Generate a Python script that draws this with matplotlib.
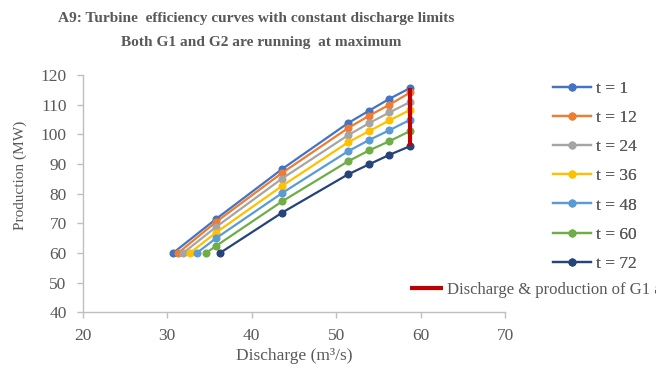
import matplotlib
matplotlib.use("Agg")
import matplotlib.pyplot as plt

# data
labels = ["t = 1", "t = 12", "t = 24", "t = 36", "t = 48", "t = 60", "t = 72"]
colors = ["#4472C4", "#ED7D31", "#A5A5A5", "#FFC000", "#5B9BD5", "#70AD47", "#264478"]

q_t1 = [30.7, 35.8, 43.6, 51.4, 53.9, 56.3, 58.8]
p_t1 = [60.0, 71.5, 88.3, 103.8, 108.0, 112.0, 115.7]
q_t12 = [31.3, 35.8, 43.6, 51.4, 53.9, 56.3, 58.8]
p_t12 = [60.0, 70.5, 87.0, 102.1, 106.3, 110.0, 114.2]
q_t24 = [31.9, 35.8, 43.6, 51.4, 53.9, 56.3, 58.8]
p_t24 = [60.0, 68.8, 85.1, 99.7, 103.8, 107.4, 111.0]
q_t36 = [32.7, 35.8, 43.6, 51.4, 53.9, 56.3, 58.8]
p_t36 = [60.0, 66.9, 82.6, 97.3, 101.1, 104.7, 108.3]
q_t48 = [33.5, 35.8, 43.6, 51.4, 53.9, 56.3, 58.8]
p_t48 = [60.0, 65.0, 80.2, 94.3, 98.1, 101.4, 105.0]
q_t60 = [34.6, 35.8, 43.6, 51.4, 53.9, 56.3, 58.8]
p_t60 = [60.0, 62.4, 77.4, 90.9, 94.6, 97.7, 101.2]
q_t72 = [36.25, 43.6, 51.4, 53.9, 56.3, 58.8]
p_t72 = [60.0, 73.6, 86.5, 89.9, 93.1, 96.1]

# vertical limit line of G1 (max discharge)
g1_q = [58.8, 58.8]
g1_p = [96.1, 115.7]

series_q = [q_t1, q_t12, q_t24, q_t36, q_t48, q_t60, q_t72]
series_p = [p_t1, p_t12, p_t24, p_t36, p_t48, p_t60, p_t72]

txt = "#595959"
plt.rcParams["font.family"] = ["Liberation Serif", "DejaVu Serif"]

fig = plt.figure(figsize=(6.56, 3.70), dpi=100)
ax = fig.add_axes([0.126, 0.156, 0.644, 0.641])

handles = []
for q, p, c, lab in zip(series_q, series_p, colors, labels):
    h, = ax.plot(q, p, color=c, lw=1.6, marker="o", ms=4.8, label=lab)
    handles.append(h)

red, = ax.plot(g1_q, g1_p, color="#C00000", lw=3, solid_capstyle="butt",
               label="Discharge & production of G1 and G2", zorder=5)

ax.set_xlim(20, 70)
ax.set_ylim(40, 120)
ax.set_xticks(range(20, 71, 10))
ax.set_yticks(range(40, 121, 10))

for s in ["top", "right"]:
    ax.spines[s].set_visible(False)
for s in ["left", "bottom"]:
    ax.spines[s].set_color("#BFBFBF")
    ax.spines[s].set_linewidth(1.0)
ax.tick_params(colors="#BFBFBF", labelcolor=txt, labelsize=12.5, length=4,
               width=1.0, pad=7.5)

ax.set_xlabel("Discharge (m³/s)", fontsize=12.5, color=txt, labelpad=3)
ax.set_ylabel("Production (MW)", fontsize=11, color=txt)
ax.yaxis.set_label_coords(-0.132, 0.579)

fig.text(0.39, 0.95, "A9: Turbine  efficiency curves with constant discharge limits",
         ha="center", va="center", fontsize=11.1, fontweight="bold", color=txt)
fig.text(0.398, 0.885, "Both G1 and G2 are running  at maximum",
         ha="center", va="center", fontsize=11.1, fontweight="bold", color=txt)

leg1 = fig.legend(handles=handles, loc="upper left", bbox_to_anchor=(0.843, 0.782),
                  frameon=False, fontsize=12.5, labelcolor=txt, handlelength=2.2,
                  handletextpad=0.25, labelspacing=0.75, borderaxespad=0, borderpad=0)
fig.add_artist(leg1)
fig.legend(handles=[red], loc="center left", bbox_to_anchor=(0.625, 0.216),
           frameon=False, fontsize=12, labelcolor=txt, handlelength=2.0,
           handletextpad=0.24, borderaxespad=0, borderpad=0)

fig.savefig("out.png", dpi=100)
